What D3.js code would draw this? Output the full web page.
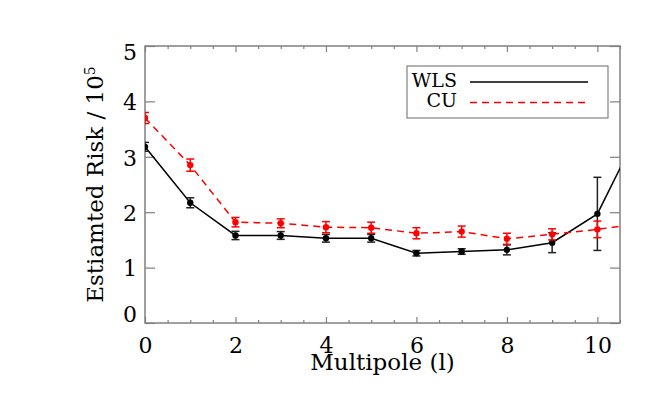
<!DOCTYPE html>
<html>
<head>
<meta charset="utf-8">
<script src="https://cdn.jsdelivr.net/npm/d3@7"></script>
<style>
  body { margin: 0; background: #fff; }
  svg { display: block; }
  text { font-family: "DejaVu Serif", "Liberation Serif", serif; }
</style>
</head>
<body>
<svg id="chart" width="664" height="415"></svg>
<script>
// multipole index
const multipole = [0, 1, 2, 3, 4, 5, 6, 7, 8, 9, 10, 11];
// estimated risk / 1e5
const wls = [3.18, 2.17, 1.58, 1.58, 1.53, 1.53, 1.26, 1.29, 1.32, 1.45, 1.97, 3.61];
const wlsErr = [0.08, 0.09, 0.075, 0.07, 0.07, 0.07, 0.05, 0.05, 0.09, 0.18, 0.66, 0.8];
const cu = [3.70, 2.85, 1.82, 1.80, 1.73, 1.72, 1.62, 1.65, 1.52, 1.60, 1.69, 1.80];
const cuErr = [0.1, 0.11, 0.085, 0.08, 0.1, 0.1, 0.1, 0.1, 0.1, 0.1, 0.15, 0.15];
const xTicks = [0, 2, 4, 6, 8, 10];
const yTicks = [0, 1, 2, 3, 4, 5];

const svg = d3.select('#chart');
const m = {left: 145, top: 46, right: 620, bottom: 323};
const x = d3.scaleLinear().domain([0, 10.5]).range([m.left, m.right]);
const y = d3.scaleLinear().domain([0, 5]).range([m.bottom, m.top]);
const axisCol = '#808080';

svg.append('clipPath').attr('id', 'plotClip')
  .append('rect')
  .attr('x', m.left).attr('y', m.top)
  .attr('width', m.right - m.left).attr('height', m.bottom - m.top);

const minor = d3.range(0, 10.51, 0.5).filter(d => d % 2 !== 0);

// axes, ticks pointing inwards
const styleAxis = g => {
  g.select('.domain').remove();
  g.selectAll('line').attr('stroke', axisCol).attr('stroke-width', 1.2);
};
svg.append('g').attr('transform', `translate(0,${m.bottom})`)
  .call(d3.axisBottom(x).tickValues(xTicks).tickSize(-6).tickFormat(d3.format('d')))
  .call(styleAxis)
  .call(g => g.selectAll('text').attr('y', 14).attr('dy', '0.71em')
    .attr('fill', '#000').style('font-size', '22px'));
svg.append('g').attr('transform', `translate(0,${m.bottom})`)
  .call(d3.axisBottom(x).tickValues(minor).tickSize(-3).tickFormat(''))
  .call(styleAxis);
svg.append('g').attr('transform', `translate(0,${m.top})`)
  .call(d3.axisTop(x).tickValues(xTicks).tickSize(-6).tickFormat(''))
  .call(styleAxis);
svg.append('g').attr('transform', `translate(0,${m.top})`)
  .call(d3.axisTop(x).tickValues(minor).tickSize(-3).tickFormat(''))
  .call(styleAxis);
svg.append('g').attr('transform', `translate(${m.left},0)`)
  .call(d3.axisLeft(y).tickValues(yTicks).tickSize(-10).tickFormat(d3.format('d')))
  .call(styleAxis)
  .call(g => g.selectAll('text').attr('x', -8)
    .attr('dy', d => d === 0 ? '-0.05em' : d === 5 ? '0.62em' : '0.38em')
    .attr('fill', '#000').style('font-size', '22px'));
svg.append('g').attr('transform', `translate(${m.right},0)`)
  .call(d3.axisRight(y).tickValues(yTicks).tickSize(-10).tickFormat(''))
  .call(styleAxis);

svg.append('rect')
  .attr('x', m.left).attr('y', m.top)
  .attr('width', m.right - m.left).attr('height', m.bottom - m.top)
  .attr('fill', 'none').attr('stroke', axisCol).attr('stroke-width', 1.5);

// axis titles
svg.append('text')
  .attr('x', x(5.25)).attr('y', 370)
  .attr('text-anchor', 'middle').style('font-size', '23px')
  .text('Multipole (l)');
const yl = svg.append('text')
  .attr('transform', `translate(103,${(m.top + m.bottom) / 2}) rotate(-90)`)
  .attr('text-anchor', 'middle').style('font-size', '23px');
yl.append('tspan').text('Estiamted Risk / 10');
yl.append('tspan').attr('dy', '-0.55em').style('font-size', '14px').text('5');

// series
const plot = svg.append('g').attr('clip-path', 'url(#plotClip)');
const series = [
  {vals: wls, err: wlsErr, col: '#000', barCol: '#222', dash: null},
  {vals: cu, err: cuErr, col: '#ff0000', barCol: '#ff0000', dash: '7,5'}
];
series.forEach(s => {
  const pts = multipole.map((d, i) => ({x: d, v: s.vals[i], e: s.err[i]}));
  plot.append('path').datum(pts)
    .attr('fill', 'none').attr('stroke', s.col).attr('stroke-width', 1.5)
    .attr('stroke-dasharray', s.dash)
    .attr('d', d3.line().x(d => x(d.x)).y(d => y(d.v)));
  const eb = plot.append('g').attr('stroke', s.barCol).attr('stroke-width', 1.5);
  eb.selectAll('line.v').data(pts).join('line').attr('class', 'v')
    .attr('x1', d => x(d.x)).attr('x2', d => x(d.x))
    .attr('y1', d => y(d.v - d.e)).attr('y2', d => y(d.v + d.e));
  [-1, 1].forEach(sg => {
    eb.selectAll('line.c' + (sg + 1)).data(pts).join('line').attr('class', 'c' + (sg + 1))
      .attr('x1', d => x(d.x) - 4).attr('x2', d => x(d.x) + 4)
      .attr('y1', d => y(d.v + sg * d.e)).attr('y2', d => y(d.v + sg * d.e));
  });
  plot.append('g').selectAll('circle').data(pts).join('circle')
    .attr('cx', d => x(d.x)).attr('cy', d => y(d.v)).attr('r', 3.2)
    .attr('fill', s.col);
});

// legend
const lg = svg.append('g');
lg.append('rect').attr('x', 407).attr('y', 66).attr('width', 201).attr('height', 52)
  .attr('fill', '#fff').attr('stroke', axisCol).attr('stroke-width', 1.2);
[['WLS', '#000', null, 82, 87], ['CU', '#ff0000', '7,5', 102.5, 107]].forEach(([name, col, dash, ly, ty]) => {
  lg.append('text').attr('x', 457).attr('y', ty).attr('text-anchor', 'end')
    .style('font-size', '19px').text(name);
  lg.append('line').attr('x1', 470).attr('x2', 588).attr('y1', ly).attr('y2', ly)
    .attr('stroke', col).attr('stroke-width', 1.5).attr('stroke-dasharray', dash);
});
</script>
</body>
</html>
